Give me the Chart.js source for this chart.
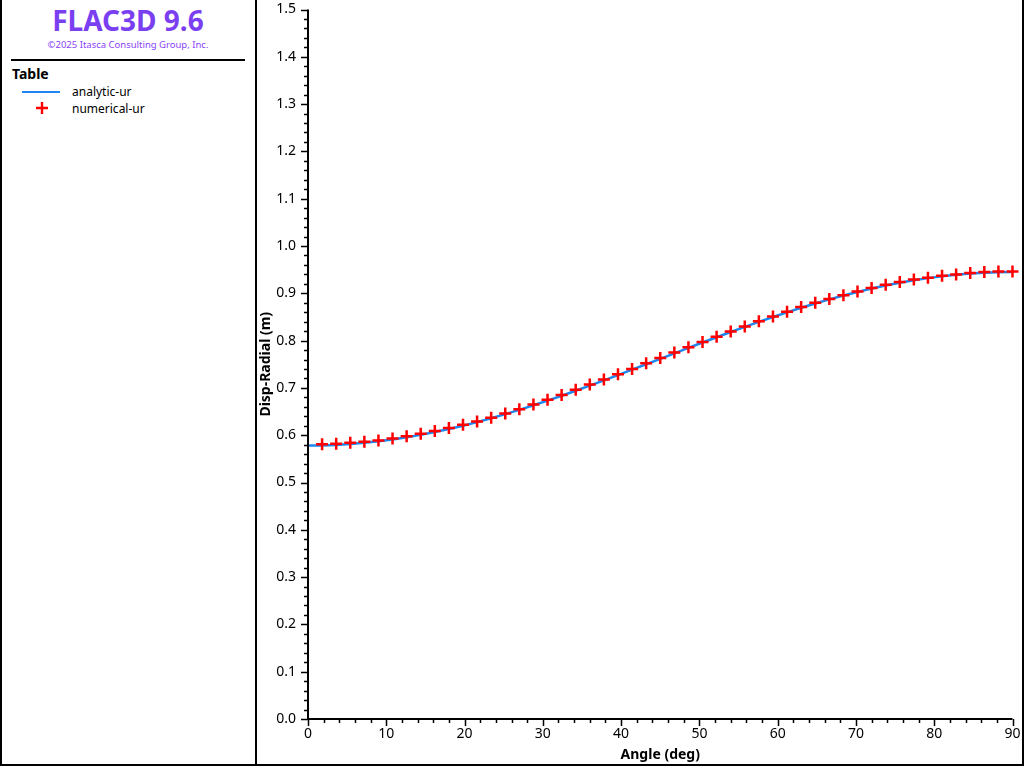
<!DOCTYPE html>
<html>
<head>
<meta charset="utf-8">
<script src="https://cdn.jsdelivr.net/npm/chart.js@4"></script>
<style>
  html, body { margin: 0; padding: 0; background: #fff; }
  body { width: 1024px; height: 768px; position: relative; overflow: hidden; font-family: "Segoe UI", "Noto Sans", sans-serif; }
  #frame { position: absolute; left: 0; top: 0; width: 1020px; height: 764px; border-left: 2px solid #000; border-right: 2px solid #000; border-bottom: 2px solid #000; }
  #divider { position: absolute; left: 255px; top: 0; width: 2px; height: 766px; background: #000; }
  #brand { position: absolute; left: 0; top: 3px; width: 256px; text-align: center; color: #7b3ff2; font-weight: bold; font-size: 28px; line-height: 34px; }
  #copy { position: absolute; left: 0; top: 39px; width: 256px; text-align: center; color: #8a3ffc; font-size: 9.5px; line-height: 12px; }
  #rule { position: absolute; left: 11px; top: 59px; width: 234px; height: 2px; background: #000; }
  #legTitle { position: absolute; left: 12px; top: 65px; font-weight: bold; font-size: 14px; line-height: 18px; color: #000; }
  .legText { position: absolute; left: 72px; font-size: 12px; line-height: 14px; color: #000; }
  #legLine { position: absolute; left: 22px; top: 91px; width: 38px; height: 2px; background: #1e88f0; }
  #legCross { position: absolute; left: 36px; top: 102px; width: 12px; height: 12px; }
  #wrap { position: absolute; left: 257px; top: 1px; width: 764px; height: 764px; }
</style>
</head>
<body>
<div id="frame"></div>
<div id="divider"></div>
<div id="brand">FLAC3D 9.6</div>
<div id="copy">©2025 Itasca Consulting Group, Inc.</div>
<div id="rule"></div>
<div id="legTitle">Table</div>
<div id="legLine"></div>
<div class="legText" style="top:85px">analytic-ur</div>
<svg id="legCross" viewBox="0 0 12 12"><path d="M6 0V12M0 6H12" stroke="#ff0000" stroke-width="2.4"/></svg>
<div class="legText" style="top:102px">numerical-ur</div>
<div id="wrap"><canvas id="chart" width="764" height="764"></canvas></div>

<script>
// data
const angleAnalytic = [0, 1.8, 3.6, 5.4, 7.2, 9, 10.8, 12.6, 14.4, 16.2, 18, 19.8, 21.6, 23.4, 25.2, 27, 28.8, 30.6, 32.4, 34.2, 36, 37.8, 39.6, 41.4, 43.2, 45, 46.8, 48.6, 50.4, 52.2, 54, 55.8, 57.6, 59.4, 61.2, 63, 64.8, 66.6, 68.4, 70.2, 72, 73.8, 75.6, 77.4, 79.2, 81, 82.8, 84.6, 86.4, 88.2, 90];
const urAnalytic = [0.578, 0.5784, 0.5795, 0.5813, 0.5838, 0.587, 0.5909, 0.5955, 0.6007, 0.6066, 0.613, 0.6201, 0.6277, 0.6359, 0.6445, 0.6536, 0.6632, 0.6731, 0.6834, 0.694, 0.7048, 0.7159, 0.7271, 0.7385, 0.75, 0.7615, 0.773, 0.7845, 0.7959, 0.807, 0.8182, 0.829, 0.8396, 0.8499, 0.8598, 0.8694, 0.8785, 0.8871, 0.8953, 0.9029, 0.91, 0.9164, 0.9223, 0.9275, 0.9321, 0.936, 0.9392, 0.9417, 0.9435, 0.9446, 0.945];

const angleNumerical = [1.8, 3.6, 5.4, 7.2, 9, 10.8, 12.6, 14.4, 16.2, 18, 19.8, 21.6, 23.4, 25.2, 27, 28.8, 30.6, 32.4, 34.2, 36, 37.8, 39.6, 41.4, 43.2, 45, 46.8, 48.6, 50.4, 52.2, 54, 55.8, 57.6, 59.4, 61.2, 63, 64.8, 66.6, 68.4, 70.2, 72, 73.8, 75.6, 77.4, 79.2, 81, 82.8, 84.6, 86.4, 88.2, 90];
const urNumerical = [0.581, 0.582, 0.584, 0.586, 0.589, 0.593, 0.598, 0.603, 0.609, 0.615, 0.622, 0.629, 0.637, 0.646, 0.655, 0.665, 0.675, 0.685, 0.696, 0.707, 0.718, 0.729, 0.74, 0.752, 0.763, 0.775, 0.786, 0.797, 0.808, 0.819, 0.83, 0.841, 0.851, 0.861, 0.871, 0.88, 0.888, 0.896, 0.904, 0.911, 0.918, 0.924, 0.929, 0.933, 0.937, 0.94, 0.943, 0.945, 0.946, 0.946];

const xTicks = [0, 10, 20, 30, 40, 50, 60, 70, 80, 90];
const yTicks = [0, 0.1, 0.2, 0.3, 0.4, 0.5, 0.6, 0.7, 0.8, 0.9, 1.0, 1.1, 1.2, 1.3, 1.4, 1.5];

const toPoints = (xs, ys) => xs.map((x, i) => ({ x, y: ys[i] }));
const FONT = "'Segoe UI', 'Noto Sans', sans-serif";

// axis lines + major/minor tick marks, placed through the scales
const axisPlugin = {
  id: "axisTicks",
  afterDraw(chart) {
    const { ctx, chartArea: a, scales: { x, y } } = chart;
    ctx.save();
    ctx.strokeStyle = "#000";
    ctx.lineWidth = 2;
    ctx.beginPath();
    ctx.moveTo(a.left, a.top);
    ctx.lineTo(a.left, a.bottom);
    ctx.lineTo(a.right, a.bottom);
    ctx.stroke();
    ctx.lineWidth = 1.5;
    ctx.beginPath();
    for (let i = 0; i <= 90; i += 2) {
      const px = Math.round(x.getPixelForValue(i)) + 0.5;
      const len = i % 10 === 0 ? 7 : 4;
      ctx.moveTo(px, a.bottom);
      ctx.lineTo(px, a.bottom + len);
    }
    for (let j = 0; j <= 75; j++) {
      const py = Math.round(y.getPixelForValue(j * 0.02)) + 0.5;
      const len = j % 5 === 0 ? 7 : 4;
      ctx.moveTo(a.left, py);
      ctx.lineTo(a.left - len, py);
    }
    ctx.stroke();
    ctx.restore();
  }
};

new Chart(document.getElementById("chart"), {
  type: "scatter",
  data: {
    datasets: [
      {
        label: "numerical-ur",
        data: toPoints(angleNumerical, urNumerical),
        showLine: false,
        pointStyle: "cross",
        pointRadius: 6,
        pointBorderWidth: 2.5,
        borderColor: "#ff0000",
        backgroundColor: "#ff0000",
        clip: false,
        order: 1
      },
      {
        label: "analytic-ur",
        data: toPoints(angleAnalytic, urAnalytic),
        showLine: true,
        borderColor: "#1e88f0",
        borderWidth: 2.5,
        pointRadius: 0,
        tension: 0,
        order: 2
      }
    ]
  },
  options: {
    responsive: false,
    animation: false,
    layout: { padding: { top: 7, right: 8, left: 0, bottom: 0 } },
    plugins: { legend: { display: false }, tooltip: { enabled: false } },
    scales: {
      x: {
        type: "linear",
        min: 0,
        max: 90,
        afterBuildTicks: (s) => { s.ticks = xTicks.map(v => ({ value: v })); },
        afterFit: (s) => { s.height = 46; s.paddingLeft = 0; s.paddingRight = 0; },
        grid: { display: false, drawTicks: false },
        border: { display: false },
        ticks: { color: "#000", padding: 7, font: { family: FONT, size: 14 } },
        title: { display: true, text: "Angle (deg)", color: "#000", padding: { top: 0, bottom: 2 }, font: { family: FONT, size: 14, weight: "bold" } }
      },
      y: {
        min: 0,
        max: 1.5,
        afterBuildTicks: (s) => { s.ticks = yTicks.map(v => ({ value: v })); },
        afterFit: (s) => { s.width = 51; s.paddingTop = 0; s.paddingBottom = 0; },
        grid: { display: false, drawTicks: false },
        border: { display: false },
        ticks: { color: "#000", padding: 12, font: { family: FONT, size: 14 }, callback: (v) => v.toFixed(1) },
        title: { display: true, text: "Disp-Radial (m)", color: "#000", padding: { top: 1, bottom: 0 }, font: { family: FONT, size: 14, weight: "bold" } }
      }
    }
  },
  plugins: [axisPlugin]
});
</script>
</body>
</html>
